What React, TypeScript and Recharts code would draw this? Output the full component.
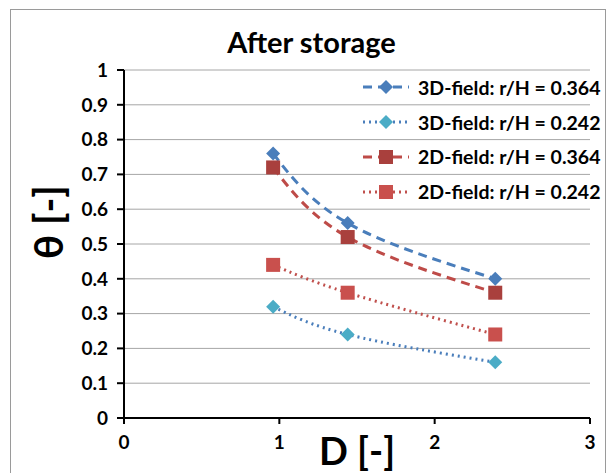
import React from "react";
import { LineChart, Line, XAxis, YAxis, CartesianGrid, Label } from "recharts";

const dValues = [0.96, 1.44, 2.39];
const theta3D364 = [0.76, 0.56, 0.4];
const theta3D242 = [0.32, 0.24, 0.16];
const theta2D364 = [0.72, 0.52, 0.36];
const theta2D242 = [0.44, 0.36, 0.24];
const xTicks = [0, 1, 2, 3];
const yTicks = [0, 0.1, 0.2, 0.3, 0.4, 0.5, 0.6, 0.7, 0.8, 0.9, 1];

const data = dValues.map((d, i) => ({
  d,
  s1: theta3D364[i],
  s2: theta3D242[i],
  s3: theta2D364[i],
  s4: theta2D242[i],
}));

const FONT = "Lato, 'Open Sans', sans-serif";

const series = [
  { key: "s1", name: "3D-field: r/H = 0.364", line: "#4a7ebb", fill: "#4a7ebb", dash: "9 6", shape: "diamond" },
  { key: "s2", name: "3D-field: r/H = 0.242", line: "#4a7ebb", fill: "#4bacc6", dash: "2 4", shape: "diamond" },
  { key: "s3", name: "2D-field: r/H = 0.364", line: "#be4b48", fill: "#a9403d", dash: "9 6", shape: "square" },
  { key: "s4", name: "2D-field: r/H = 0.242", line: "#c0504d", fill: "#c9504d", dash: "2 4", shape: "square" },
];

function Marker({ cx, cy, shape, fill }: { cx: number; cy: number; shape: string; fill: string }) {
  if (shape === "diamond") {
    const r = 7;
    return <polygon points={`${cx},${cy - r} ${cx + r},${cy} ${cx},${cy + r} ${cx - r},${cy}`} fill={fill} />;
  }
  const s = 7;
  return <rect x={cx - s} y={cy - s} width={s * 2} height={s * 2} fill={fill} />;
}

function LegendBox() {
  return (
    <div
      style={{
        position: "absolute",
        left: 361,
        top: 70,
        fontFamily: FONT,
        fontWeight: 700,
        fontSize: 19.5,
        color: "#000",
      }}
    >
      {series.map((s) => (
        <div key={s.key} style={{ display: "flex", alignItems: "center", height: 34.8 }}>
          <svg width={52} height={20} style={{ marginRight: 5 }}>
            <line x1={2} y1={10} x2={48} y2={10} stroke={s.line} strokeWidth={3} strokeDasharray={s.dash} />
            <Marker cx={25} cy={10} shape={s.shape} fill={s.fill} />
          </svg>
          <span>{s.name}</span>
        </div>
      ))}
    </div>
  );
}

export default function App() {
  return (
    <div style={{ position: "absolute", left: 0, top: 0, width: 609, height: 473, background: "#fff" }}>
      <div
        style={{
          position: "absolute",
          left: 10,
          top: 9,
          width: 596,
          height: 470,
          border: "1.5px solid #9a9a9a",
          boxSizing: "border-box",
        }}
      />
      <div
        style={{
          position: "absolute",
          left: 0,
          width: 609,
          top: 24,
          textAlign: "center",
          fontFamily: FONT,
          fontWeight: 700,
          fontSize: 29,
        }}
      >
        <span style={{ marginLeft: 14 }}>After storage</span>
      </div>
      <LineChart
        width={609}
        height={473}
        data={data}
        margin={{ top: 70, right: 19, bottom: 0, left: 0 }}
        style={{ position: "absolute", left: 0, top: 0 }}
      >
        <CartesianGrid horizontal vertical={false} stroke="#a6a6a6" strokeWidth={1} />
        <XAxis
          type="number"
          dataKey="d"
          domain={[0, 3]}
          ticks={xTicks}
          height={55}
          stroke="#000"
          strokeWidth={2}
          tickSize={6}
          tick={{ fontFamily: FONT, fontWeight: 700, fontSize: 19, fill: "#000" }}
          tickMargin={12}
        >
          <Label
            content={() => (
              <text
                x={357}
                y={465}
                textAnchor="middle"
                style={{ fontFamily: FONT, fontWeight: 700, fontSize: 38, fill: "#000" }}
              >
                D [-]
              </text>
            )}
          />
        </XAxis>
        <YAxis
          type="number"
          domain={[0, 1]}
          ticks={yTicks}
          width={124}
          stroke="#000"
          strokeWidth={2}
          tickSize={7}
          tickMargin={9}
          tick={{ fontFamily: FONT, fontWeight: 700, fontSize: 19, fill: "#000" }}
        >
          <Label
            content={() => (
              <text
                x={48}
                y={222}
                transform="rotate(-90 48 222)"
                textAnchor="middle"
                dominantBaseline="central"
                style={{ fontFamily: FONT, fontWeight: 700, fontSize: 40, fill: "#000" }}
              >
                θ [-]
              </text>
            )}
          />
        </YAxis>
        {series.map((s) => (
          <Line
            key={s.key}
            dataKey={s.key}
            name={s.name}
            type="natural"
            stroke={s.line}
            strokeWidth={3}
            strokeDasharray={s.dash}
            isAnimationActive={false}
            dot={(p: any) => <Marker key={`${s.key}-${p.index}`} cx={p.cx} cy={p.cy} shape={s.shape} fill={s.fill} />}
            activeDot={false}
          />
        ))}
      </LineChart>
      <LegendBox />
    </div>
  );
}
